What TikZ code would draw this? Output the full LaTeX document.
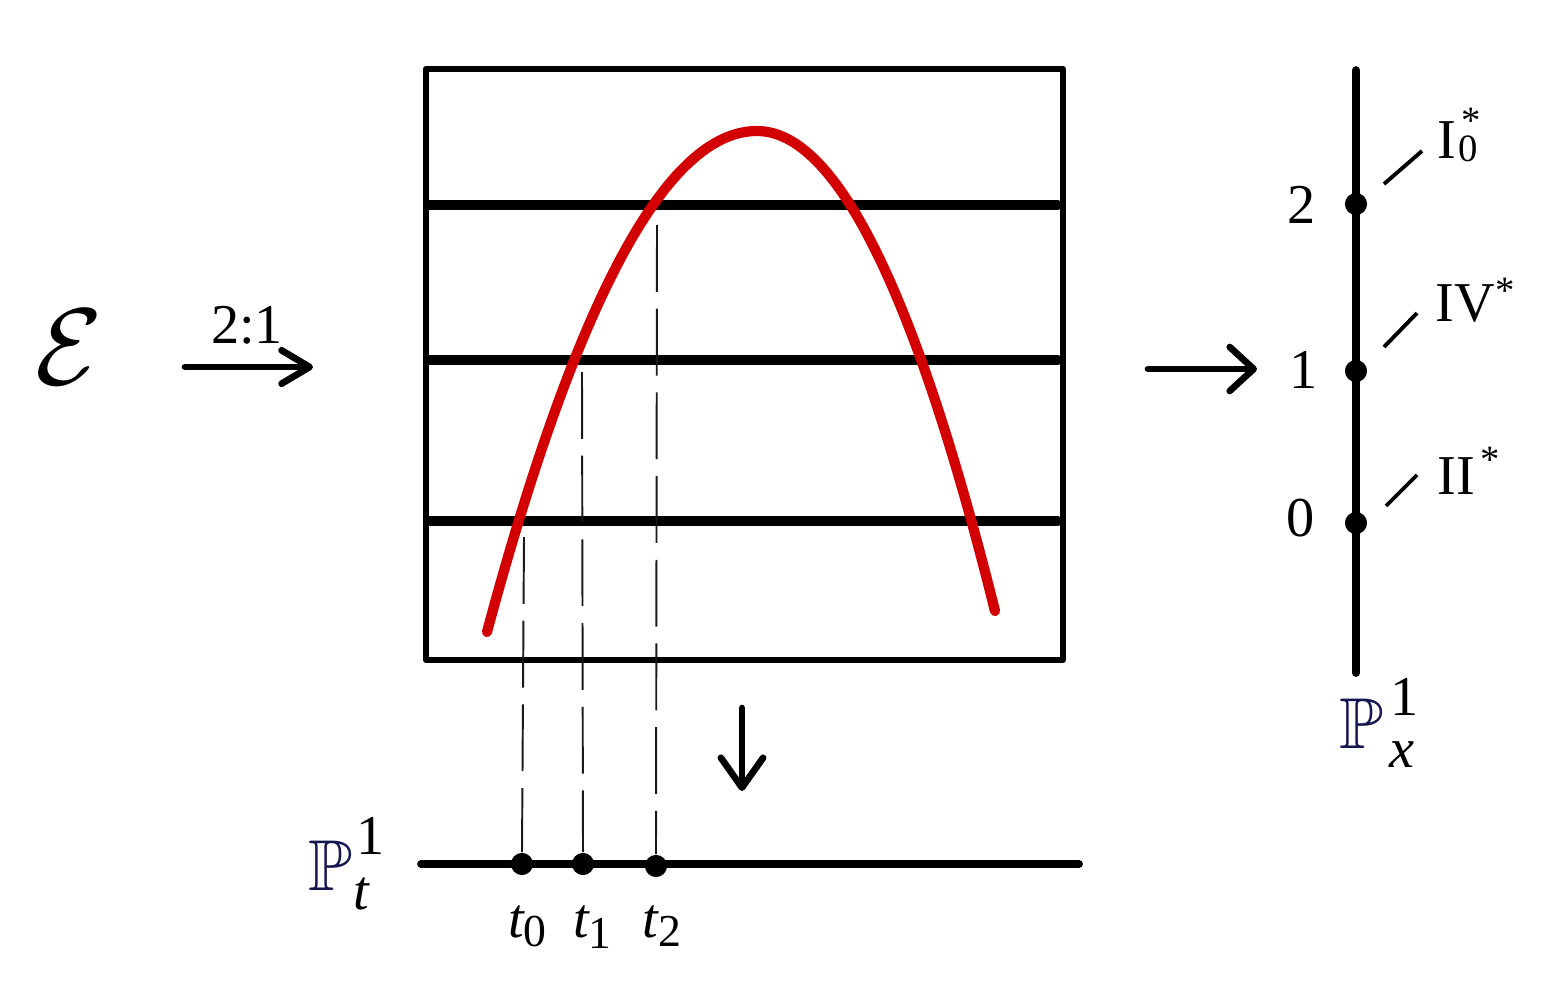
\documentclass[tikz,border=0pt]{standalone}
\usepackage{amssymb}
\usepackage{graphicx}
\usepackage{fontspec}
\setmainfont{Liberation Serif}
\usetikzlibrary{arrows.meta}
\definecolor{curvered}{RGB}{210,0,0}
\definecolor{navyP}{RGB}{22,22,82}
\definecolor{dashgray}{RGB}{25,25,25}
\begin{document}
\begin{tikzpicture}[x=0.01cm,y=-0.01cm,
  boxline/.style={line width=1.8pt, line join=round},
  fibre/.style={line width=2.6pt, line cap=round},
  axisline/.style={line width=2.2pt, line cap=round},
  dashline/.style={line width=0.55pt, draw=dashgray, dash pattern=on 19pt off 4.8pt},
  redcurve/.style={line width=2.9pt, draw=curvered, line cap=round},
  dotnode/.style={circle, fill=black, inner sep=0pt, minimum size=6.3pt},
  tick/.style={line width=1.1pt},
  lbl/.style={inner sep=0pt, font=\fontsize{16}{19}\selectfont},
  small/.style={inner sep=0pt, font=\fontsize{11}{13}\selectfont},
  bbP/.style={inner sep=0pt, text=navyP},
  maparrow/.style={line width=1.9pt, line cap=round}
]
\useasboundingbox (0,0) rectangle (1541,1000);

% box and fibres
\draw[boxline] (426,69) rectangle (1063,660);
\coordinate (h1l) at (429,205); \coordinate (h1r) at (1058,205);
\coordinate (h2l) at (429,360); \coordinate (h2r) at (1058,360);
\coordinate (h3l) at (429,521); \coordinate (h3r) at (1058,521);
\draw[fibre] (h1l) -- (h1r);
\draw[fibre] (h2l) -- (h2r);
\draw[fibre] (h3l) -- (h3r);

% red curve
\coordinate (cL) at (487,632);
\coordinate (cP) at (757,131);
\coordinate (cR) at (995,611);
\draw[redcurve] (cL) .. controls (577,297) and (667,131) .. (cP)
                     .. controls (836,131) and (915,290) .. (cR);

% base line P^1_t
\coordinate (bl) at (421,864); \coordinate (br) at (1079,864);
\draw[axisline] (bl) -- (br);
\node[dotnode] (d0) at (522,864) {};
\node[dotnode] (d1) at (583,864) {};
\node[dotnode] (d2) at (656,866) {};

% dashed projections
\coordinate (p0) at (524,537);
\coordinate (p1) at (582,372);
\coordinate (p2) at (657,225);
\draw[dashline] (p0) -- (d0.north);
\draw[dashline] (p1) -- (d1.north);
\draw[dashline] (p2) -- (d2.north);

% t labels
\node[lbl, anchor=base west] (t0) at (508,937) {\textit{t}};
\node[small, anchor=base west, font=\fontsize{13}{15}\selectfont] (t0s) at (523,946) {0};
\node[lbl, anchor=base west] (t1) at (573,937) {\textit{t}};
\node[small, anchor=base west, font=\fontsize{13}{15}\selectfont] (t1s) at (588,948) {1};
\node[lbl, anchor=base west] (t2) at (642,937) {\textit{t}};
\node[small, anchor=base west, font=\fontsize{13}{15}\selectfont] (t2s) at (658,946) {2};

% P^1_t
\node[bbP] (Pt) at (331,866) {\scalebox{2.05}{$\mathbb{P}$}};
\node[lbl] (Pt1) at (371,836) {1};
\node[lbl] (Ptt) at (362,894) {\textit{t}};

% vertical axis P^1_x
\coordinate (vt) at (1356,70); \coordinate (vb) at (1356,673);
\draw[axisline] (vt) -- (vb);
\node[dotnode] (e2) at (1356,204) {};
\node[dotnode] (e1) at (1356,371) {};
\node[dotnode] (e0) at (1356,523) {};
\node[lbl] (n2) at (1302,205) {2};
\node[lbl] (n1) at (1304,370) {1};
\node[lbl] (n0) at (1301,518) {0};

% ticks to fibre types
\coordinate (k2a) at (1384,184); \coordinate (k2b) at (1422,151);
\coordinate (k1a) at (1384,347); \coordinate (k1b) at (1417,313);
\coordinate (k0a) at (1386,506); \coordinate (k0b) at (1417,475);
\draw[tick] (k2a) -- (k2b);
\draw[tick] (k1a) -- (k1b);
\draw[tick] (k0a) -- (k0b);

\node[lbl, anchor=base west] (f2) at (1437,158) {I};
\node[small, anchor=base west] (f2s) at (1458,162) {0};
\node[small] (f2st) at (1471,121) {*};
\node[lbl, anchor=base west] (f1) at (1435,321) {IV};
\node[small] (f1st) at (1505,291) {*};
\node[lbl, anchor=base west] (f0) at (1437,494) {II};
\node[small] (f0st) at (1490,460) {*};

% P^1_x
\node[bbP] (Px) at (1362,724) {\scalebox{2.05}{$\mathbb{P}$}};
\node[lbl] (Px1) at (1405,697) {1};
\node[lbl] (Pxx) at (1402,755) {\textit{x}};

% E and arrows
\node[inner sep=0pt] (E) at (69,347) {\scalebox{3.1}{$\mathcal{E}$}};
\node[lbl] (ratio) at (247,325) {2:1};
\coordinate (a1s) at (185,367); \coordinate (a1e) at (313,367);
\draw[maparrow, -{Straight Barb[length=8pt, width=9.5pt, round]}] (a1s) -- (a1e);
\coordinate (a2s) at (1148,369); \coordinate (a2e) at (1257,369);
\draw[maparrow, -{Straight Barb[length=6.8pt, width=12.5pt, round]}] (a2s) -- (a2e);
\coordinate (a3s) at (742,708); \coordinate (a3e) at (742,791);
\draw[maparrow, -{Straight Barb[length=8.5pt, width=12pt, round]}] (a3s) -- (a3e);
\end{tikzpicture}
\end{document}
